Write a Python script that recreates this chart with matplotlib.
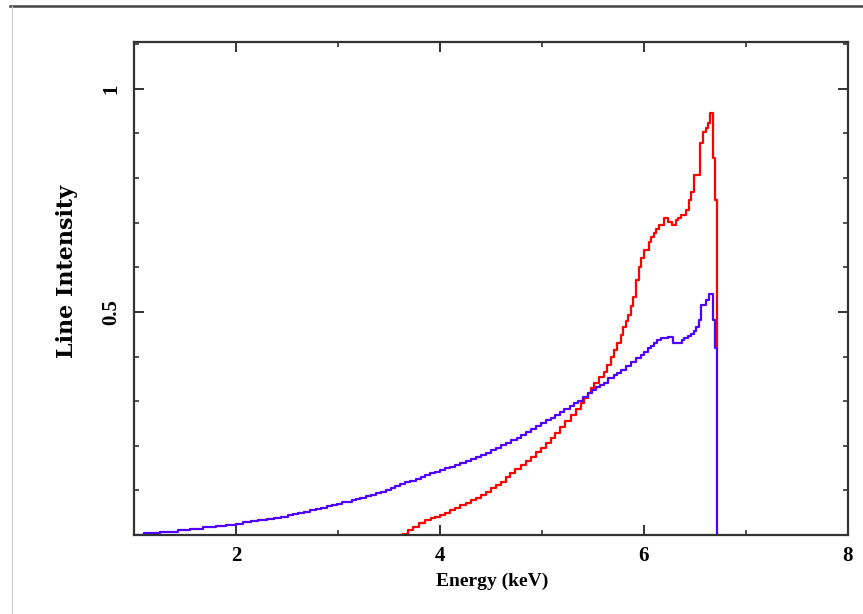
import matplotlib.pyplot as plt
from matplotlib.lines import Line2D
from matplotlib.ticker import MultipleLocator

# blue curve: left bin edge (keV), line intensity
blue_e = [1.00, 1.10, 1.25, 1.43, 1.55, 1.68, 1.80, 1.90, 2.00, 2.07, 2.15, 2.22,
          2.30, 2.37, 2.44, 2.51, 2.56, 2.61, 2.67, 2.73, 2.78, 2.83, 2.89, 2.94,
          2.99, 3.04, 3.09, 3.14, 3.18, 3.22, 3.27, 3.32, 3.37, 3.42, 3.47, 3.52,
          3.56, 3.61, 3.66, 3.71, 3.76, 3.81, 3.85, 3.90, 3.95, 4.00, 4.05, 4.10,
          4.15, 4.20, 4.25, 4.30, 4.35, 4.40, 4.45, 4.50, 4.55, 4.60, 4.65, 4.70,
          4.75, 4.79, 4.84, 4.89, 4.94, 4.99, 5.04, 5.09, 5.13, 5.18, 5.22, 5.27,
          5.31, 5.35, 5.40, 5.45, 5.49, 5.53, 5.57, 5.61, 5.65, 5.71, 5.74, 5.77,
          5.82, 5.87, 5.92, 5.97, 6.00, 6.04, 6.07, 6.10, 6.13, 6.17, 6.24, 6.28,
          6.34, 6.37, 6.39, 6.43, 6.46, 6.49, 6.51, 6.54, 6.56, 6.61, 6.64, 6.68,
          6.70, 6.72]
blue_i = [0.000, 0.004, 0.007, 0.011, 0.014, 0.018, 0.020, 0.023, 0.025, 0.028, 0.031, 0.034,
          0.036, 0.039, 0.041, 0.044, 0.047, 0.049, 0.052, 0.055, 0.058, 0.061, 0.064, 0.067,
          0.070, 0.073, 0.075, 0.078, 0.080, 0.083, 0.087, 0.090, 0.093, 0.097, 0.101, 0.106,
          0.110, 0.115, 0.118, 0.122, 0.126, 0.130, 0.134, 0.138, 0.142, 0.146, 0.150, 0.153,
          0.157, 0.161, 0.165, 0.170, 0.174, 0.179, 0.184, 0.190, 0.196, 0.202, 0.207, 0.213,
          0.218, 0.224, 0.230, 0.237, 0.244, 0.251, 0.257, 0.263, 0.270, 0.276, 0.282, 0.289,
          0.295, 0.300, 0.309, 0.318, 0.325, 0.332, 0.336, 0.341, 0.352, 0.359, 0.364, 0.370,
          0.379, 0.388, 0.396, 0.404, 0.411, 0.419, 0.424, 0.430, 0.436, 0.442, 0.444, 0.430,
          0.430, 0.436, 0.442, 0.446, 0.450, 0.458, 0.466, 0.482, 0.516, 0.527, 0.540, 0.482,
          0.420, 0.000]

# red curve
red_e = [3.62, 3.64, 3.69, 3.74, 3.79, 3.85, 3.91, 3.95, 4.00, 4.05, 4.10, 4.15,
         4.20, 4.25, 4.30, 4.35, 4.40, 4.45, 4.50, 4.55, 4.60, 4.65, 4.69, 4.74,
         4.79, 4.84, 4.89, 4.94, 4.99, 5.04, 5.09, 5.13, 5.18, 5.23, 5.28, 5.33,
         5.38, 5.41, 5.45, 5.48, 5.51, 5.56, 5.61, 5.64, 5.68, 5.71, 5.74, 5.77,
         5.79, 5.82, 5.84, 5.87, 5.89, 5.92, 5.95, 5.97, 6.00, 6.05, 6.07, 6.10,
         6.12, 6.15, 6.20, 6.24, 6.27, 6.31, 6.33, 6.36, 6.41, 6.44, 6.46, 6.49,
         6.55, 6.58, 6.61, 6.63, 6.65, 6.68, 6.70, 6.72]
red_i = [0.000, 0.003, 0.011, 0.019, 0.027, 0.033, 0.038, 0.041, 0.045, 0.050, 0.056, 0.061,
         0.067, 0.072, 0.078, 0.084, 0.090, 0.097, 0.105, 0.112, 0.119, 0.129, 0.139, 0.148,
         0.157, 0.166, 0.175, 0.185, 0.195, 0.206, 0.217, 0.229, 0.242, 0.255, 0.269, 0.282,
         0.295, 0.306, 0.318, 0.329, 0.340, 0.355, 0.365, 0.382, 0.400, 0.415, 0.430, 0.448,
         0.466, 0.480, 0.493, 0.513, 0.534, 0.572, 0.600, 0.620, 0.639, 0.657, 0.667, 0.677,
         0.686, 0.695, 0.710, 0.702, 0.695, 0.706, 0.711, 0.717, 0.729, 0.751, 0.769, 0.807,
         0.879, 0.904, 0.913, 0.924, 0.946, 0.845, 0.751, 0.420]

plt.rcParams['font.family'] = ['Liberation Serif', 'DejaVu Serif']
plt.rcParams['font.weight'] = 'bold'

fig = plt.figure(figsize=(8.63, 6.14), dpi=100)
ax = fig.add_axes([0.1553, 0.1287, 0.8273, 0.8029])

ax.step(red_e, red_i, where='post', color='#ff0000', lw=1.6)
ax.step(blue_e, blue_i, where='post', color='#5000ff', lw=1.6)

ax.set_xlim(1, 8)
ax.set_ylim(0, 1.105)
ax.set_xticks([2, 4, 6, 8])
ax.xaxis.set_minor_locator(MultipleLocator(1))
ax.set_yticks([0.5, 1.0])
ax.set_yticklabels(['0.5', '1'], rotation=90, va='center')
ax.yaxis.set_minor_locator(MultipleLocator(0.1))

ax.tick_params(which='both', direction='in', top=True, right=True,
               color='#333333', labelsize=15)
ax.tick_params(which='major', length=7, width=1.4)
ax.tick_params(which='minor', length=3.5, width=1.2)
ax.tick_params(axis='x', pad=8)
ax.tick_params(axis='y', pad=9)
for s in ax.spines.values():
    s.set_linewidth(1.6)
    s.set_color('#333333')

ax.set_xlabel('Energy (keV)', fontsize=14, fontweight='bold')
ax.set_ylabel('Line Intensity', fontsize=16, fontweight='bold', family='DejaVu Serif')
ax.xaxis.set_label_coords(0.501, -0.076)
ax.yaxis.set_label_coords(-0.078, 0.535)

# screenshot frame
fig.add_artist(Line2D([0.012, 1.0], [0.991, 0.991], color='#444444', lw=1.8))
fig.add_artist(Line2D([0.0139, 0.0139], [0.0, 0.991], color='#cccccc', lw=0.8))

fig.savefig('out.png', dpi=100)
